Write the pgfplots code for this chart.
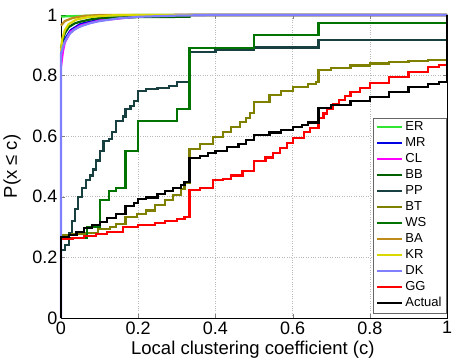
\documentclass[border=0pt]{standalone}
\usepackage{pgfplots}
\pgfplotsset{compat=1.18}
\usepackage{fontspec}
\setmainfont{Liberation Sans}

\definecolor{cER}{rgb}{0.2,0.9,0.2}
\definecolor{cMR}{rgb}{0,0,0.9}
\definecolor{cCL}{rgb}{1,0,1}
\definecolor{cBB}{rgb}{0,0.38,0}
\definecolor{cPP}{rgb}{0.1,0.25,0.25}
\definecolor{cBT}{rgb}{0.5,0.5,0}
\definecolor{cWS}{rgb}{0,0.45,0}
\definecolor{cBA}{rgb}{0.75,0.55,0.1}
\definecolor{cKR}{rgb}{0.85,0.85,0}
\definecolor{cDK}{rgb}{0.5,0.5,1}

\tikzset{cdf/.style={line width=2.2pt, line join=miter, mark=none}}

\begin{document}
\begin{tikzpicture}
\path (0,0) rectangle (457pt,362pt);
\begin{axis}[
  at={(61pt,44pt)}, anchor=south west,
  scale only axis,
  width=386pt, height=303pt,
  xmin=0, xmax=1, ymin=0, ymax=1,
  xtick={0,0.2,0.4,0.6,0.8,1},
  ytick={0,0.2,0.4,0.6,0.8,1},
  /pgf/number format/assume math mode=true,
  tick label style={font=\fontsize{18}{18}\selectfont},
  tick align=inside,
  major tick length=4pt,
  grid=major,
  grid style={gray!55, dotted, line width=0.6pt},
  axis line style={black, line width=0.5pt},
  clip=false,
  xlabel={Local clustering coefficient (c)},
  ylabel={P(x ≤ c)},
  label style={font=\fontsize{18.5}{18.5}\selectfont},
  xlabel style={at={(axis description cs:0.497,-0.106)}, anchor=center},
  ylabel style={at={(axis description cs:-0.127,0.5)}, anchor=center},
  legend style={at={(1,0.016)}, anchor=south east, draw=black!60, line width=0.6pt,
    font=\fontsize{13}{13}\selectfont, row sep=0pt, inner xsep=3pt, inner ysep=1.5pt,
    nodes={text height=9.7pt, text depth=3.1pt, inner ysep=1.6pt, inner xsep=2.2pt}},
  legend cell align=left,
  legend image code/.code={\draw[#1] (0pt,0pt) -- (25pt,0pt);},
]
% ER
\addplot[cdf, cER] coordinates {(0,0.995)(0.05,0.997)(0.2,1)(1,1)};
% MR
\addplot[cdf, cMR] coordinates {(0,0.87)(0.01,0.92)(0.025,0.95)(0.05,0.97)(0.1,0.985)(0.2,0.995)(0.3,1)(1,1)};
% CL
\addplot[cdf, cCL] coordinates {(0,0.83)(0.005,0.88)(0.01,0.91)(0.025,0.945)(0.05,0.965)(0.1,0.982)(0.2,0.995)(0.3,1)(1,1)};
% BB
\addplot[cdf, cBB] coordinates {(0,0.89)(0.005,0.92)(0.01,0.94)(0.02,0.96)(0.035,0.972)(0.05,0.978)(0.075,0.985)(0.1,0.99)(0.15,0.992)(0.2,0.993)(0.333,0.994)(0.333,1)(1,1)};
% PP
\addplot[cdf, cPP, const plot] coordinates {(0,0.225)(0.01,0.24)(0.02,0.28)(0.028,0.32)(0.036,0.36)(0.045,0.40)(0.055,0.43)(0.065,0.455)(0.075,0.47)(0.083,0.49)(0.09,0.52)(0.1,0.55)(0.11,0.585)(0.125,0.59)(0.133,0.615)(0.143,0.65)(0.16,0.665)(0.167,0.69)(0.18,0.70)(0.19,0.715)(0.2,0.75)(0.22,0.755)(0.25,0.76)(0.28,0.765)(0.3,0.78)(0.333,0.878)(0.4,0.886)(0.5,0.893)(0.667,0.917)(1,1)};
% BT
\addplot[cdf, cBT, const plot] coordinates {(0,0.275)(0.03,0.278)(0.062,0.28)(0.096,0.293)(0.127,0.30)(0.143,0.31)(0.167,0.333)(0.197,0.343)(0.22,0.355)(0.243,0.373)(0.27,0.39)(0.29,0.406)(0.31,0.425)(0.32,0.445)(0.333,0.558)(0.36,0.575)(0.394,0.597)(0.42,0.615)(0.44,0.63)(0.464,0.647)(0.48,0.66)(0.49,0.677)(0.5,0.713)(0.54,0.735)(0.57,0.75)(0.6,0.762)(0.64,0.772)(0.66,0.78)(0.667,0.818)(0.7,0.825)(0.75,0.833)(0.8,0.84)(0.85,0.845)(0.9,0.849)(0.95,0.852)(1,1)};
% WS
\addplot[cdf, cWS, const plot] coordinates {(0,0.265)(0.067,0.30)(0.1,0.39)(0.125,0.42)(0.143,0.43)(0.167,0.55)(0.2,0.65)(0.3,0.69)(0.333,0.89)(0.5,0.934)(0.667,0.974)(1,1)};
% BA
\addplot[cdf, cBA] coordinates {(0,0.965)(0.01,0.98)(0.03,0.99)(0.06,0.997)(0.1,1)(1,1)};
% KR
\addplot[cdf, cKR] coordinates {(0,0.88)(0.003,0.92)(0.01,0.95)(0.02,0.97)(0.04,0.985)(0.07,0.993)(0.12,0.998)(0.15,1)(1,1)};
% DK
\addplot[cdf, cDK] coordinates {(0,0)(0,0.87)(0.005,0.895)(0.01,0.912)(0.02,0.935)(0.035,0.952)(0.05,0.962)(0.075,0.973)(0.1,0.98)(0.15,0.989)(0.2,0.994)(0.3,0.998)(0.4,1)(1,1)};
% GG
\addplot[cdf, red, const plot] coordinates {(0,0.26)(0.03,0.265)(0.06,0.27)(0.09,0.278)(0.12,0.285)(0.16,0.30)(0.2,0.307)(0.243,0.313)(0.27,0.32)(0.3,0.328)(0.32,0.333)(0.333,0.422)(0.36,0.43)(0.394,0.455)(0.42,0.46)(0.44,0.47)(0.47,0.485)(0.5,0.518)(0.53,0.53)(0.55,0.545)(0.567,0.561)(0.585,0.578)(0.6,0.594)(0.63,0.615)(0.645,0.627)(0.667,0.66)(0.68,0.675)(0.69,0.69)(0.705,0.705)(0.72,0.72)(0.735,0.733)(0.75,0.745)(0.775,0.76)(0.8,0.775)(0.85,0.795)(0.9,0.812)(0.95,0.828)(0.98,0.836)(1,1)};
% Actual
\addplot[cdf, black, const plot] coordinates {(0,0)(0,0.268)(0.02,0.275)(0.04,0.285)(0.06,0.298)(0.08,0.308)(0.1,0.318)(0.12,0.33)(0.143,0.342)(0.167,0.37)(0.19,0.38)(0.2,0.392)(0.22,0.398)(0.25,0.41)(0.27,0.42)(0.29,0.43)(0.31,0.44)(0.32,0.449)(0.333,0.528)(0.36,0.535)(0.38,0.545)(0.4,0.552)(0.43,0.565)(0.46,0.575)(0.48,0.587)(0.5,0.604)(0.54,0.612)(0.57,0.62)(0.6,0.63)(0.625,0.637)(0.64,0.645)(0.667,0.693)(0.7,0.703)(0.75,0.715)(0.8,0.73)(0.85,0.745)(0.9,0.762)(0.95,0.772)(0.98,0.778)(1,1)};
\legend{ER,MR,CL,BB,PP,BT,WS,BA,KR,DK,GG,Actual}
\end{axis}
\end{tikzpicture}
\end{document}
